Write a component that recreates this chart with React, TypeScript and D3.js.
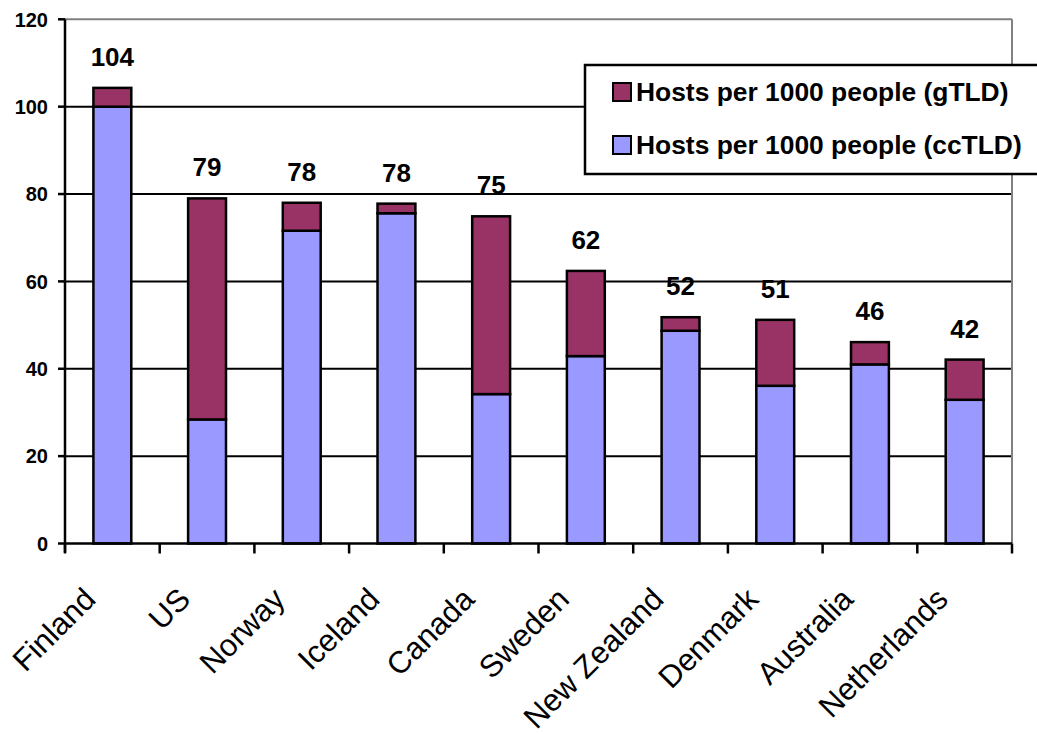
import React from "react";
import * as d3 from "d3";

// Hosts per 1000 people, split by top-level-domain type
const countries = [
  "Finland",
  "US",
  "Norway",
  "Iceland",
  "Canada",
  "Sweden",
  "New Zealand",
  "Denmark",
  "Australia",
  "Netherlands",
];
const ccTLD = [100, 28.4, 71.6, 75.6, 34.2, 42.9, 48.7, 36.1, 41.0, 32.9];
const gTLD = [4.3, 50.6, 6.4, 2.2, 40.7, 19.5, 3.1, 15.1, 5.1, 9.2];
const yTicks = [0, 20, 40, 60, 80, 100, 120];
const seriesNames = ["Hosts per 1000 people (gTLD)", "Hosts per 1000 people (ccTLD)"];

const W = 1037;
const H = 734;
const FONT = "'Liberation Sans', Arial, Helvetica, sans-serif";
const CC_COLOR = "#9999FF";
const G_COLOR = "#993366";

export default function App() {
  const left = 65;
  const right = 1012;
  const top = 19.3;
  const bottom = 543.5;

  const x = d3
    .scaleBand<string>()
    .domain(countries)
    .range([left, right])
    .paddingInner(0.6)
    .paddingOuter(0.3);
  const y = d3.scaleLinear().domain([0, 120]).range([bottom, top]);

  const rows = countries.map((c, i) => ({ country: c, cc: ccTLD[i], g: gTLD[i] }));
  const stacked = d3.stack<any>().keys(["cc", "g"])(rows);

  const step = x.step();
  const bw = x.bandwidth();
  const boundaries = d3.range(countries.length + 1).map((i) => left + i * step);

  return (
    <svg
      width={W}
      height={H}
      style={{ position: "absolute", left: 0, top: 0, background: "#fff" }}
      fontFamily={FONT}
    >
      {/* horizontal gridlines */}
      {yTicks
        .filter((t) => t > 0 && t < 120)
        .map((t) => (
          <line key={t} x1={left} x2={right} y1={y(t)} y2={y(t)} stroke="#000" strokeWidth={2} />
        ))}
      {/* plot area frame (top and right) */}
      <line x1={left} x2={right} y1={y(120)} y2={y(120)} stroke="#808080" strokeWidth={2} />
      <line x1={right} x2={right} y1={y(120)} y2={bottom} stroke="#808080" strokeWidth={2} />

      {/* stacked bars */}
      {stacked.map((layer, li) =>
        layer.map((d, i) => (
          <rect
            key={`${li}-${i}`}
            x={x(countries[i])!}
            y={y(d[1])}
            width={bw}
            height={y(d[0]) - y(d[1])}
            fill={li === 0 ? CC_COLOR : G_COLOR}
            stroke="#000"
            strokeWidth={2.5}
          />
        ))
      )}

      {/* y axis */}
      <line x1={left} x2={left} y1={y(120)} y2={bottom + 9} stroke="#000" strokeWidth={2.5} />
      {yTicks.map((t) => (
        <g key={t}>
          <line x1={left - 7} x2={left} y1={y(t)} y2={y(t)} stroke="#000" strokeWidth={2.5} />
          <text
            x={48}
            y={y(t)}
            dy="0.36em"
            textAnchor="end"
            fontSize={20}
            fontWeight="bold"
          >
            {t}
          </text>
        </g>
      ))}

      {/* x axis */}
      <line x1={left} x2={right} y1={bottom} y2={bottom} stroke="#000" strokeWidth={2.5} />
      {boundaries.map((bx, i) => (
        <line key={i} x1={bx} x2={bx} y1={bottom} y2={bottom + 10} stroke="#000" strokeWidth={2.5} />
      ))}
      {countries.map((c) => {
        const cx = x(c)! + bw / 2;
        const ax = cx - 15;
        const ay = 601;
        return (
          <text
            key={c}
            x={ax}
            y={ay}
            textAnchor="end"
            fontSize={31}
            transform={`rotate(-45, ${ax}, ${ay})`}
          >
            {c}
          </text>
        );
      })}

      {/* total labels */}
      {rows.map((r) => {
        const total = r.cc + r.g;
        return (
          <text
            key={r.country}
            x={x(r.country)! + bw / 2}
            y={y(total) - 22}
            textAnchor="middle"
            fontSize={26}
            fontWeight="bold"
          >
            {Math.round(total)}
          </text>
        );
      })}

      {/* legend */}
      <g>
        <rect x={585} y={65} width={470} height={109} fill="#fff" stroke="#000" strokeWidth={2.5} />
        {seriesNames.map((name, i) => {
          const ly = 91 + i * 53;
          return (
            <g key={name}>
              <rect
                x={613}
                y={ly - 8}
                width={18}
                height={18}
                fill={i === 0 ? G_COLOR : CC_COLOR}
                stroke="#000"
                strokeWidth={2}
              />
              <text x={636} y={ly + 9.5} fontSize={26.4} fontWeight="bold">
                {name}
              </text>
            </g>
          );
        })}
      </g>
    </svg>
  );
}
